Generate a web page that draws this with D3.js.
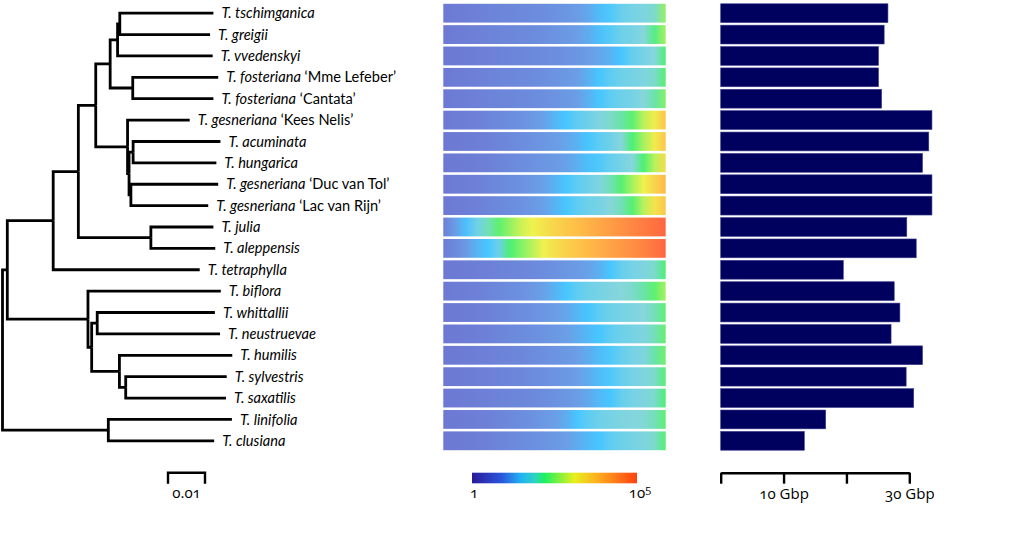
<!DOCTYPE html>
<html>
<head>
<meta charset="utf-8">
<script src="https://cdn.jsdelivr.net/npm/d3@7"></script>
<style>
  html, body { margin: 0; padding: 0; background: #fff; }
  svg { display: block; }
  .lbl { font-family: "Lato", "Open Sans", sans-serif; font-size: 14.6px; fill: #000; }
  .num { font-family: "Open Sans", sans-serif; font-feature-settings: "onum" 1; font-size: 15px; fill: #000; }
</style>
</head>
<body>
<svg id="chart" width="1023" height="543"></svg>
<script>
// ---------------- DATA ----------------
const leafIds = ["tschimganica","greigii","vvedenskyi","MmeLefeber","Cantata","KeesNelis","acuminata","hungarica","DucVanTol","LacVanRijn","julia","aleppensis","tetraphylla","biflora","whittallii","neustruevae","humilis","sylvestris","saxatilis","linifolia","clusiana"];
const species = ["T. tschimganica","T. greigii","T. vvedenskyi","T. fosteriana","T. fosteriana","T. gesneriana","T. acuminata","T. hungarica","T. gesneriana","T. gesneriana","T. julia","T. aleppensis","T. tetraphylla","T. biflora","T. whittallii","T. neustruevae","T. humilis","T. sylvestris","T. saxatilis","T. linifolia","T. clusiana"];
const cultivars = ["","","","‘Mme Lefeber’","‘Cantata’","‘Kees Nelis’","","","‘Duc van Tol’","‘Lac van Rijn’","","","","","","","","","","",""];
// genome size (Gbp)
const genomeGbp = [26.6, 26.0, 25.1, 25.1, 25.6, 33.6, 33.1, 32.1, 33.6, 33.6, 29.6, 31.1, 19.5, 27.6, 28.5, 27.1, 32.1, 29.5, 30.7, 16.7, 13.3];
// phylogeny with branch lengths (substitutions/site)
const newick = "(((((((((tschimganica:0.0253,greigii:0.0244):0.0006,vvedenskyi:0.0257):0.0020,(MmeLefeber:0.0231,Cantata:0.0218):0.0061):0.0039,(KeesNelis:0.0168,((acuminata:0.0236,hungarica:0.0225):0.0011,(DucVanTol:0.0236,LacVanRijn:0.0209):0.0005):0.0004):0.0086):0.0047,(julia:0.0169,aleppensis:0.0174):0.0196):0.0068,tetraphylla:0.0396):0.0124,(biflora:0.0359,((whittallii:0.0318,neustruevae:0.0332):0.0015,(humilis:0.0305,(sylvestris:0.0273,saxatilis:0.0271):0.0017):0.0075):0.0010):0.0218):0.0013,(linifolia:0.0334,clusiana:0.0286):0.0286);";
// heatmap: log10(count) in 21 evenly spaced bins per taxon
const heatValues = [
  [0,0.1,0.15,0.2,0.25,0.3,0.35,0.4,0.45,0.5,0.6,0.7,0.85,1.05,1.35,1.55,1.72,1.8,1.85,1.95,2.6],
  [0,0.1,0.15,0.2,0.25,0.3,0.35,0.4,0.45,0.55,0.65,0.75,0.9,1.1,1.4,1.6,1.75,1.8,1.9,2.15,2.7],
  [0,0.05,0.1,0.15,0.2,0.25,0.3,0.35,0.4,0.45,0.5,0.6,0.7,0.85,1.0,1.2,1.5,1.7,1.8,1.9,2.2],
  [0,0.1,0.15,0.2,0.25,0.3,0.35,0.4,0.45,0.55,0.65,0.75,0.9,1.15,1.5,1.65,1.75,1.8,1.85,1.95,2.25],
  [0,0.1,0.15,0.2,0.25,0.3,0.35,0.4,0.45,0.55,0.65,0.75,0.9,1.15,1.5,1.65,1.75,1.8,1.9,2.05,2.5],
  [0,0.1,0.15,0.2,0.3,0.4,0.5,0.6,0.75,0.95,1.25,1.5,1.65,1.75,1.85,1.95,2.05,2.3,2.8,3.2,3.7],
  [0,0.05,0.1,0.15,0.2,0.3,0.4,0.5,0.6,0.7,0.85,1.0,1.2,1.5,1.65,1.75,1.9,2.2,2.7,3.2,3.7],
  [0,0.05,0.1,0.15,0.2,0.3,0.4,0.5,0.6,0.7,0.8,0.95,1.15,1.4,1.55,1.7,1.8,1.9,2.2,2.8,3.4],
  [0,0.1,0.15,0.2,0.3,0.4,0.5,0.6,0.75,0.95,1.2,1.5,1.65,1.75,1.85,2.0,2.25,2.7,3.1,3.5,3.9],
  [0,0.1,0.15,0.2,0.3,0.4,0.5,0.6,0.75,0.95,1.2,1.5,1.65,1.75,1.8,1.9,2.0,2.25,2.8,3.3,3.7],
  [0.2,0.8,1.4,1.75,2.0,2.3,2.6,2.9,3.1,3.3,3.5,3.65,3.8,3.95,4.1,4.25,4.4,4.55,4.7,4.85,5.0],
  [0.1,0.4,0.75,1.2,1.5,1.75,2.2,2.5,2.8,3.1,3.35,3.55,3.7,3.85,4.0,4.15,4.3,4.45,4.6,4.8,5.0],
  [0,0.05,0.1,0.15,0.2,0.25,0.3,0.35,0.4,0.5,0.6,0.7,0.8,0.95,1.15,1.5,1.7,1.8,1.85,1.95,2.2],
  [0,0.1,0.15,0.2,0.3,0.4,0.5,0.6,0.75,0.95,1.2,1.5,1.65,1.75,1.8,1.85,1.9,1.95,2.05,2.3,2.7],
  [0,0.05,0.1,0.15,0.2,0.3,0.4,0.5,0.6,0.7,0.85,1.0,1.25,1.5,1.65,1.75,1.8,1.85,1.9,2.0,2.3],
  [0,0.05,0.1,0.15,0.2,0.3,0.4,0.45,0.55,0.65,0.75,0.9,1.1,1.3,1.5,1.65,1.75,1.8,1.85,2.0,2.35],
  [0,0.05,0.1,0.15,0.2,0.25,0.3,0.35,0.45,0.55,0.65,0.75,0.9,1.1,1.35,1.55,1.7,1.8,1.85,2.05,2.4],
  [0,0.05,0.1,0.15,0.2,0.25,0.3,0.35,0.45,0.55,0.65,0.75,0.9,1.1,1.35,1.55,1.7,1.8,1.85,1.95,2.25],
  [0,0.05,0.1,0.15,0.2,0.25,0.3,0.35,0.4,0.5,0.6,0.7,0.85,1.05,1.3,1.5,1.7,1.8,1.85,1.95,2.2],
  [0,0.05,0.1,0.15,0.2,0.3,0.4,0.5,0.6,0.75,0.9,1.1,1.5,1.65,1.75,1.8,1.85,1.88,1.92,2.0,2.3],
  [0,0.05,0.1,0.15,0.2,0.3,0.4,0.45,0.55,0.65,0.75,0.9,1.1,1.3,1.5,1.65,1.75,1.8,1.85,1.95,2.25]
];
const colorbarTicks = [1, 1e5];
const barTicks = [0, 10, 20, 30];
const barTickLabels = ["", "10 Gbp", "", "30 Gbp"];
const treeScaleLen = 0.01;

// ---------------- STYLE ----------------
const paletteStops = [0, 0.9, 1.5, 1.9, 2.2, 3.1, 3.8, 5];
const heatPalette = ["#6d78d3", "#6b9ee6", "#46c6ff", "#86d6dc", "#4cf074", "#eef24e", "#ffbe48", "#ff6640"];
const barPalette  = ["#2a1a9a", "#2a56dc", "#22b4f2", "#2cd2c2", "#1ef060", "#e6f01e", "#ffae1e", "#ff4010"];

// ---------------- HELPERS ----------------
function parseNewick(s) {
  let i = 0;
  function node() {
    const n = {};
    if (s[i] === "(") {
      n.children = [];
      i++;
      n.children.push(node());
      while (s[i] === ",") { i++; n.children.push(node()); }
      i++; // ')'
    }
    let name = "";
    while (i < s.length && !",():;".includes(s[i])) name += s[i++];
    n.name = name;
    n.length = 0;
    if (s[i] === ":") {
      i++;
      let l = "";
      while (i < s.length && !",();".includes(s[i])) l += s[i++];
      n.length = +l;
    }
    return n;
  }
  return node();
}

// ---------------- DRAW ----------------
const svg = d3.select("#chart");
svg.append("rect").attr("width", 1023).attr("height", 543).attr("fill", "#fff");

const y = d3.scaleBand().domain(leafIds).range([2.5, 451.5]).paddingInner(0.12).paddingOuter(0.06);
const yc = id => y(id) + y.bandwidth() / 2;

// tree
const treeX = d3.scaleLinear().domain([0, 0.01]).range([2.5, 39.5]);
const root = d3.hierarchy(parseNewick(newick));
root.eachBefore(d => { d.dist = d.parent ? d.parent.dist + d.data.length : 0; });
root.eachAfter(d => {
  if (!d.children) d.yy = yc(d.data.name);
  else d.yy = (d.children[0].yy + d.children[d.children.length - 1].yy) / 2;
});
const gTree = svg.append("g");
gTree.selectAll("path.link")
  .data(root.descendants().filter(d => d.parent))
  .join("path")
  .attr("class", "link")
  .attr("fill", "none")
  .attr("stroke", "#000")
  .attr("stroke-width", 2.8)
  .attr("stroke-linejoin", "miter")
  .attr("d", d => `M${treeX(d.parent.dist)},${d.parent.yy}V${d.yy}H${treeX(d.dist)}`);

// labels
const leaves = root.leaves();
const lbl = gTree.selectAll("text.lbl")
  .data(leaves)
  .join("text")
  .attr("class", "lbl")
  .attr("x", d => treeX(d.dist) + 8)
  .attr("y", d => d.yy)
  .attr("dy", "0.35em");
lbl.append("tspan").attr("font-style", "italic").text(d => species[leafIds.indexOf(d.data.name)]);
lbl.filter(d => cultivars[leafIds.indexOf(d.data.name)] !== "")
  .append("tspan").text(d => " " + cultivars[leafIds.indexOf(d.data.name)]);

// tree scale bar
const sbX0 = 168, sbY = 472.7;
const sbLen = treeX(treeScaleLen) - treeX(0);
svg.append("path")
  .attr("fill", "none").attr("stroke", "#000").attr("stroke-width", 2.4)
  .attr("d", `M${sbX0},${sbY + 11}V${sbY}H${sbX0 + sbLen}V${sbY + 11}`);
svg.append("text").attr("class", "num")
  .attr("x", sbX0 + sbLen / 2).attr("y", 493).attr("dy", "0.35em")
  .attr("text-anchor", "middle").text(d3.format(".2f")(treeScaleLen));

// heatmap
const heatColor = d3.scaleLinear().domain(paletteStops).range(heatPalette).clamp(true);
const barColor = d3.scaleLinear().domain(paletteStops).range(barPalette).clamp(true);
const hx0 = 443.3, hx1 = 665.7;
const defs = svg.append("defs");
heatValues.forEach((row, r) => {
  const grad = defs.append("linearGradient").attr("id", "hg" + r)
    .attr("x1", "0%").attr("x2", "100%").attr("y1", "0%").attr("y2", "0%");
  const pos = d3.scaleLinear().domain([0, row.length - 1]).range([0, 100]);
  grad.selectAll("stop").data(row).join("stop")
    .attr("offset", (v, i) => pos(i) + "%")
    .attr("stop-color", v => heatColor(v));
});
svg.append("g").selectAll("rect")
  .data(leafIds)
  .join("rect")
  .attr("x", hx0)
  .attr("width", hx1 - hx0)
  .attr("y", d => y(d))
  .attr("height", y.bandwidth())
  .attr("fill", (d, i) => `url(#hg${i})`);

// colorbar
const cbScale = d3.scaleLog().domain([1, 1e5]).range([472, 637]);
const cbGrad = defs.append("linearGradient").attr("id", "cbg")
  .attr("x1", "0%").attr("x2", "100%").attr("y1", "0%").attr("y2", "0%");
const cbStopPos = d3.scaleLinear().domain([0, 5]).range([0, 100]);
cbGrad.selectAll("stop").data(paletteStops).join("stop")
  .attr("offset", v => cbStopPos(v) + "%")
  .attr("stop-color", v => barColor(v));
svg.append("rect")
  .attr("x", cbScale(1)).attr("width", cbScale(1e5) - cbScale(1))
  .attr("y", 472.7).attr("height", 10.6)
  .attr("fill", "url(#cbg)");
const cbLab = svg.append("g").selectAll("text").data(colorbarTicks).join("text")
  .attr("class", "num")
  .attr("x", d => cbScale(d) + (d === 1 ? 2 : 3))
  .attr("y", 493).attr("dy", "0.35em")
  .attr("text-anchor", "middle");
cbLab.filter(d => d === 1).text("1");
cbLab.filter(d => d !== 1).each(function (d) {
  const t = d3.select(this);
  t.append("tspan").text("10");
  t.append("tspan").attr("dy", "-0.45em").attr("font-size", "11px").text(String(Math.round(Math.log10(d))));
});

// bars
const bx = d3.scaleLinear().domain([0, 30]).range([720.7, 909.3]);
svg.append("g").selectAll("rect")
  .data(genomeGbp)
  .join("rect")
  .attr("x", bx(0))
  .attr("y", (d, i) => y(leafIds[i]))
  .attr("width", d => bx(d) - bx(0))
  .attr("height", y.bandwidth())
  .attr("fill", "#00005f")
  .attr("stroke", "#3a3a8c")
  .attr("stroke-width", 0.6);

const axis = d3.axisBottom(bx).tickValues(barTicks).tickSize(11).tickSizeOuter(0).tickPadding(5)
  .tickFormat((d, i) => barTickLabels[i]);
const gAx = svg.append("g").attr("transform", "translate(0,472.7)").call(axis);
gAx.select(".domain").attr("stroke", "#000").attr("stroke-width", 2.4);
gAx.selectAll(".tick line").attr("stroke", "#000").attr("stroke-width", 2.4);
gAx.selectAll(".tick text").attr("class", "num").attr("fill", "#000")
  .style("font-family", "'Open Sans', sans-serif").style("font-size", "15px")
  .style("font-feature-settings", "'onum' 1");
</script>
</body>
</html>
